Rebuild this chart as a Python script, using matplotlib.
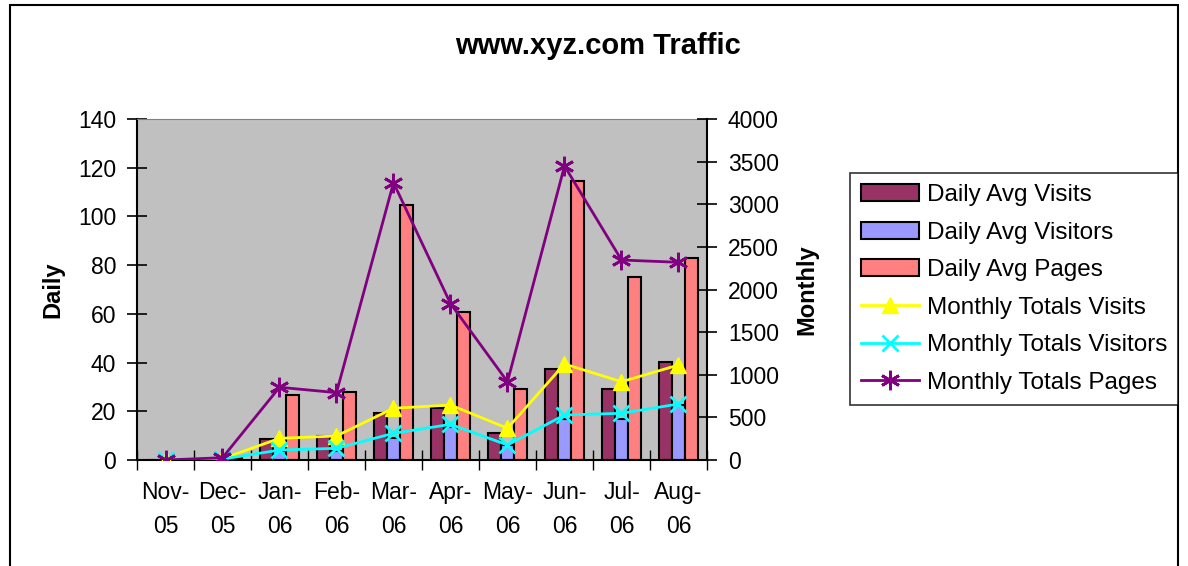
import numpy as np
import matplotlib.pyplot as plt
from matplotlib.patches import Rectangle

plt.rcParams['font.family'] = ['Liberation Sans', 'DejaVu Sans']

# data
months = ['Nov-\n05', 'Dec-\n05', 'Jan-\n06', 'Feb-\n06', 'Mar-\n06',
          'Apr-\n06', 'May-\n06', 'Jun-\n06', 'Jul-\n06', 'Aug-\n06']
daily_visits = [0, 0.5, 8.5, 9.8, 19.2, 21.5, 10.9, 37.4, 29, 40.4]
daily_visitors = [0, 0.3, 3.5, 3.8, 8.9, 13.7, 6.2, 16.7, 16.7, 22.6]
daily_pages = [0, 0.9, 26.7, 28, 104.7, 60.9, 29, 114.7, 75.2, 82.8]
monthly_visits = [0, 15, 254, 282, 607, 645, 372, 1126, 918, 1114]
monthly_visitors = [0, 10, 117, 137, 313, 418, 176, 528, 548, 657]
monthly_pages = [0, 27, 853, 790, 3253, 1835, 918, 3449, 2346, 2319]

fig = plt.figure(figsize=(11.88, 5.66), dpi=100)
# outer chart border
fig.patches.append(Rectangle((10/1188, -0.05), 1168/1188, 1.05 - 5/566, transform=fig.transFigure,
                             fill=False, edgecolor='black', linewidth=1.5))

ax = fig.add_axes([137/1188, 1 - 460/566, 570/1188, 341/566])
ax.set_facecolor('#C0C0C0')
x = np.arange(len(months))
w = 0.228
b1 = ax.bar(x - w, daily_visits, w, color='#993366', edgecolor='black', linewidth=1.5, label='Daily Avg Visits')
b2 = ax.bar(x, daily_visitors, w, color='#9999FF', edgecolor='black', linewidth=1.5, label='Daily Avg Visitors')
b3 = ax.bar(x + w, daily_pages, w, color='#FF8080', edgecolor='black', linewidth=1.5, label='Daily Avg Pages')
ax.set_xlim(-0.5, len(months) - 0.5)
ax.set_ylim(0, 140)
ax.set_yticks(range(0, 141, 20))
ax.set_xticks(x, months, linespacing=1.6)
ax.set_xticks(np.arange(-0.5, len(months)), minor=True)
ax.tick_params(axis='x', which='major', length=0, pad=15, labelsize=16.5)
ax.tick_params(axis='x', which='minor', direction='inout', length=14, width=1)
ax.tick_params(axis='y', direction='inout', length=14, width=1.2, pad=8, labelsize=16.5)
ax.set_ylabel('Daily', fontsize=17, fontweight='bold', labelpad=10)
ax.spines['top'].set_color('#808080')
ax.spines['right'].set_visible(False)
for s in ['left', 'bottom']:
    ax.spines[s].set_linewidth(1.5)

ax2 = ax.twinx()
ax2.patch.set_visible(False)
l1, = ax2.plot(x, monthly_visits, color='#FFFF00', lw=2, marker='^', ms=11, label='Monthly Totals Visits')
l2, = ax2.plot(x, monthly_visitors, color='#00FFFF', lw=2, marker='x', ms=11, mew=2, label='Monthly Totals Visitors')
l3, = ax2.plot(x, monthly_pages, color='#800080', lw=2, marker=(6, 2, 0), ms=14, mew=2, label='Monthly Totals Pages')
ax2.set_ylim(0, 4000)
ax2.set_yticks(range(0, 4001, 500))
ax2.tick_params(axis='y', direction='inout', length=14, width=1.2, pad=8, labelsize=16.5)
ax2.set_ylabel('Monthly', fontsize=17, fontweight='bold', labelpad=12)
ax2.spines['right'].set_linewidth(1.5)
ax2.spines['top'].set_visible(False)
ax2.spines['left'].set_visible(False)
ax2.spines['bottom'].set_visible(False)

fig.text(598/1188, 1 - 46/566, 'www.xyz.com Traffic', ha='center', va='center',
         fontsize=21, fontweight='bold')

handles = [b1, b2, b3, l1, l2, l3]
leg = fig.legend(handles, [h.get_label() for h in handles],
                 loc='upper left', bbox_to_anchor=(850/1188, 1 - 173/566), fontsize=17.5,
                 frameon=True, fancybox=False, edgecolor='black', borderpad=0.45,
                 labelspacing=0.64, handlelength=2.4, handletextpad=0.3, borderaxespad=0)
leg.get_frame().set_linewidth(1.2)

fig.savefig('out.png', dpi=100)
